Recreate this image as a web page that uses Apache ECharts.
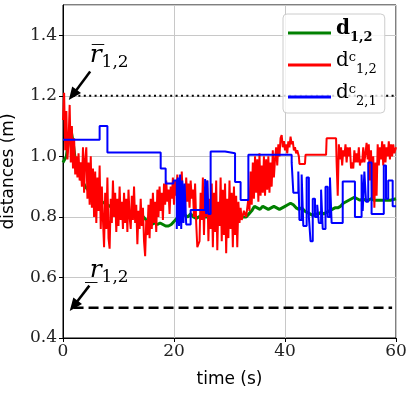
<!DOCTYPE html>
<html>
<head>
<meta charset="utf-8">
<script src="https://cdn.jsdelivr.net/npm/echarts@6/dist/echarts.min.js"></script>
<style>
  html, body { margin: 0; padding: 0; background: #fff; }
  #chart { width: 407px; height: 395px; }
</style>
</head>
<body>
<div id="chart"></div>
<script>
// time (s), distance (m)
const d12 = [[0,0.98],[0.3,0.975],[0.6,1.0],[0.9,1.04],[1.2,1.07],[1.5,1.08],[1.8,1.05],[2.2,0.99],[2.6,0.96],[3,0.94],[3.5,0.92],[4,0.9],[4.5,0.89],[5,0.88],[5.5,0.875],[6,0.865],[6.5,0.855],[7,0.85],[7.5,0.845],[8,0.84],[8.5,0.835],[9,0.825],[9.5,0.825],[10,0.82],[10.5,0.82],[11,0.815],[11.5,0.81],[12,0.81],[12.5,0.805],[13,0.81],[13.5,0.8],[14,0.805],[14.5,0.8],[15,0.79],[15.5,0.78],[16,0.775],[16.5,0.78],[17,0.775],[17.5,0.78],[18,0.775],[18.5,0.77],[19,0.77],[19.5,0.775],[20,0.785],[20.5,0.795],[21,0.8],[21.5,0.81],[22,0.805],[22.5,0.8],[23,0.81],[23.5,0.8],[24,0.795],[24.5,0.8],[25,0.805],[25.5,0.8],[26,0.8],[27,0.8],[28,0.805],[29,0.8],[30,0.8],[31,0.805],[32,0.8],[33,0.8],[33.5,0.81],[34,0.82],[34.5,0.835],[35,0.83],[35.5,0.825],[36,0.835],[36.5,0.83],[37,0.825],[37.5,0.83],[38,0.835],[38.5,0.83],[39,0.825],[39.5,0.83],[40,0.835],[40.5,0.84],[41,0.845],[41.5,0.84],[42,0.83],[42.5,0.825],[43,0.83],[43.5,0.82],[44,0.815],[44.5,0.81],[45,0.805],[45.5,0.81],[46,0.81],[46.5,0.815],[47,0.81],[47.5,0.815],[48,0.82],[48.5,0.825],[49,0.83],[49.5,0.83],[50,0.835],[50.5,0.845],[51,0.85],[51.5,0.855],[52,0.86],[52.5,0.865],[53,0.86],[53.5,0.855],[54,0.86],[54.5,0.855],[55,0.855],[55.5,0.86],[56,0.855],[57,0.855],[58,0.855],[59,0.855],[60,0.86]]

const d12c = [[0,1.12],[0.2,1.21],[0.4,1.02],[0.6,1.15],[0.8,0.99],[1.0,1.05],[1.2,1.17],[1.4,0.98],[1.6,1.1],[1.8,0.96],[2.0,1.06],[2.2,0.94],[2.4,1.0],[2.6,0.93],[2.8,1.01],[3.0,0.92],[3.2,0.98],[3.4,0.9],[3.6,1.03],[3.8,0.88],[4.0,0.99],[4.2,1.03],[4.4,0.86],[4.6,0.98],[4.8,0.84],[5.0,1.0],[5.2,0.83],[5.4,0.96],[5.6,0.8],[5.8,0.95],[6.0,0.78],[6.2,0.93],[6.4,0.82],[6.6,0.97],[6.8,0.76],[7.0,0.9],[7.2,0.79],[7.4,0.7],[7.6,0.88],[7.8,0.76],[8.0,0.93],[8.2,0.73],[8.4,0.695],[8.6,0.86],[8.8,0.78],[9.0,0.92],[9.2,0.8],[9.4,0.88],[9.6,0.75],[9.8,0.86],[10.0,0.77],[10.2,0.9],[10.4,0.79],[10.6,0.85],[10.8,0.76],[11.0,0.88],[11.2,0.78],[11.4,0.86],[11.6,0.75],[11.8,0.89],[12.0,0.8],[12.2,0.76],[12.4,0.87],[12.6,0.79],[12.8,0.9],[13.0,0.78],[13.2,0.84],[13.4,0.71],[13.6,0.82],[13.8,0.76],[14.0,0.86],[14.2,0.77],[14.4,0.83],[14.6,0.72],[14.8,0.67],[15.0,0.79],[15.2,0.74],[15.4,0.84],[15.6,0.73],[15.8,0.86],[16.0,0.76],[16.2,0.88],[16.4,0.78],[16.6,0.85],[16.8,0.75],[17.0,0.89],[17.2,0.8],[17.4,0.9],[17.6,0.82],[17.8,0.88],[18.0,0.79],[18.2,0.91],[18.4,0.84],[18.6,0.92],[18.8,0.85],[19.0,0.89],[19.2,0.81],[19.4,0.9],[19.6,0.86],[19.8,0.93],[20.0,0.84],[20.2,0.92],[20.4,0.87],[20.6,0.94],[20.8,0.83],[21.0,0.92],[21.2,0.86],[21.4,0.95],[21.6,0.84],[21.8,0.9],[22.0,0.82],[22.2,0.93],[22.4,0.85],[22.6,0.91],[22.8,0.83],[23.0,0.92],[23.2,0.86],[23.4,0.89],[23.6,0.8],[23.8,0.91],[24.0,0.78],[24.2,0.7],[24.4,0.695],[24.6,0.72],[24.8,0.88],[25.0,0.79],[25.2,0.93],[25.4,0.74],[25.6,0.9],[25.8,0.8],[26.0,0.92],[26.2,0.72],[26.4,0.86],[26.6,0.76],[26.8,0.91],[27.0,0.7],[27.2,0.88],[27.4,0.75],[27.6,0.92],[27.8,0.69],[28.0,0.85],[28.2,0.77],[28.4,0.93],[28.6,0.72],[28.8,0.89],[29.0,0.74],[29.2,0.91],[29.4,0.68],[29.6,0.86],[29.8,0.73],[30.0,0.92],[30.2,0.76],[30.4,0.88],[30.6,0.7],[30.8,0.9],[31.0,0.74],[31.2,0.87],[31.4,0.7],[31.6,0.85],[31.8,0.78],[32.0,0.83],[32.2,0.79],[32.6,0.82],[33.0,0.8],[33.4,0.86],[33.6,0.82],[33.8,0.95],[34.0,0.84],[34.2,0.98],[34.4,0.86],[34.6,1.0],[34.8,0.88],[35.0,0.99],[35.2,0.85],[35.4,1.01],[35.6,0.87],[35.8,0.97],[36.0,0.88],[36.2,1.0],[36.4,0.87],[36.6,0.99],[36.8,0.89],[37.0,1.0],[37.2,0.88],[37.4,0.98],[37.6,0.9],[37.8,1.02],[38.0,0.93],[38.2,0.99],[38.4,1.03],[38.6,0.97],[38.8,1.04],[39.0,1.0],[39.2,1.06],[39.4,1.07],[39.6,1.03],[39.8,1.05],[40.0,1.02],[40.2,1.04],[40.4,1.01],[40.6,1.05],[40.8,1.03],[41.0,1.065],[41.2,1.04],[41.4,1.05],[41.6,1.02],[41.8,1.03],[42.0,1.01],[42.2,1.02],[42.5,1.0],[42.6,0.975],[43.6,0.975],[43.7,1.005],[47.4,1.005],[47.5,1.06],[49.2,1.06],[49.3,0.98],[49.5,0.87],[49.7,1.04],[49.9,0.99],[50.1,1.03],[50.3,0.97],[50.5,1.02],[50.7,1.0],[50.9,1.04],[51.1,0.98],[51.3,1.03],[51.5,1.0],[51.7,1.03],[51.9,0.96],[52.1,0.98],[52.3,0.96],[52.5,1.02],[52.7,0.98],[52.9,1.01],[53.1,0.98],[53.3,1.03],[53.5,0.97],[53.7,0.99],[53.9,0.98],[54.1,1.03],[54.3,0.98],[54.5,1.01],[54.7,1.045],[54.9,0.99],[55.1,1.04],[55.3,0.92],[55.5,1.02],[55.7,0.86],[55.9,1.0],[56.1,0.83],[56.3,0.98],[56.5,0.87],[56.7,1.04],[56.9,0.97],[57.1,1.03],[57.3,0.99],[57.5,1.05],[57.7,0.97],[57.9,1.04],[58.1,0.98],[58.3,1.03],[58.5,1.0],[58.7,1.05],[58.9,0.99],[59.1,1.04],[59.3,1.0],[59.5,1.04],[59.7,1.01],[60,1.03]]

// step signal: each value holds until the next time stamp
const d21c = [[0,1.055],[6.6,1.1],[8.0,1.013],[17.6,0.96],[18.5,0.91],[19.9,0.92],[20.5,0.76],[20.7,0.93],[20.9,0.77],[21.1,0.94],[21.3,0.76],[21.5,0.92],[21.7,0.78],[21.9,0.91],[22.2,0.775],[23.0,0.823],[25.6,0.925],[25.8,0.81],[26.0,0.92],[26.2,0.81],[26.6,1.016],[29.2,1.01],[31.0,0.915],[32.0,0.856],[33.4,1.005],[41.2,0.98],[41.5,0.88],[42.4,0.95],[42.6,0.79],[43.0,0.94],[43.3,0.77],[43.9,0.93],[44.3,0.8],[44.6,0.72],[45.0,0.86],[45.4,0.8],[45.8,0.84],[46.1,0.78],[46.5,0.89],[46.8,0.76],[47.3,0.9],[47.7,0.8],[48.1,0.93],[48.4,0.78],[50.4,0.917],[52.6,0.8],[53.8,0.94],[54.0,0.82],[54.3,0.95],[54.6,0.85],[55.0,0.98],[55.6,0.81],[57.8,0.97],[58.2,0.86],[58.6,0.92],[59.4,0.835],[60,0.835]]

const rMax = [[1.8,1.2],[60,1.2]]
const rMin = [[1.9,0.5],[59.3,0.5]]
const arrowMax = [[4.9,1.28],[1.75,1.203]]
const arrowMin = [[4.75,0.573],[1.93,0.506]]
const labelMaxAt = [4.8,1.325]
const labelMinAt = [4.8,0.615]

const xTicks = { min: 0, max: 60, interval: 20 }
const yTicks = { min: 0.4, max: 1.5, interval: 0.2 }

const legendLabels = {
  d12: '{bd|d}{bs|1,2}',
  d12c: '{d|d}{sp|c}{s|1,2}',
  d21c: '{d|d}{sp|c}{s|2,1}'
}

const chart = echarts.init(document.getElementById('chart'))

const serif = 'DejaVu Serif'
const sans = 'DejaVu Sans'

const rLabelRich = {
  r: { fontFamily: serif, fontStyle: 'italic', fontSize: 25, color: '#000', verticalAlign: 'bottom', lineHeight: 26, padding: [0, 0, 3, 0] },
  s: { fontFamily: serif, fontSize: 17, color: '#000', verticalAlign: 'bottom', lineHeight: 18 }
}

const option = {
  animation: false,
  grid: {
    left: 63, right: 11, top: 5, bottom: 57,
    show: true, borderColor: '#000', borderWidth: 1,
    containLabel: false, outerBoundsMode: 'none'
  },
  xAxis: {
    type: 'value',
    min: xTicks.min, max: xTicks.max, interval: xTicks.interval,
    name: 'time (s)',
    nameLocation: 'middle',
    nameGap: 33,
    nameTextStyle: { fontFamily: sans, fontSize: 17, color: '#000' },
    axisLine: { lineStyle: { color: '#000', width: 1 } },
    axisTick: { show: true, length: 4, lineStyle: { color: '#000' } },
    axisLabel: { fontFamily: serif, fontSize: 17, color: '#222', margin: 5 },
    splitLine: { show: true, lineStyle: { color: '#c8c8c8', width: 1 } }
  },
  yAxis: {
    type: 'value',
    min: yTicks.min, max: yTicks.max, interval: yTicks.interval,
    name: 'distances (m)',
    nameLocation: 'middle',
    nameGap: 46,
    nameTextStyle: { fontFamily: sans, fontSize: 17, color: '#000' },
    axisLine: { show: true, lineStyle: { color: '#000', width: 1 } },
    axisTick: { show: true, length: 4, lineStyle: { color: '#000' } },
    axisLabel: {
      fontFamily: serif, fontSize: 17, color: '#222', margin: 6,
      showMaxLabel: false,
      formatter: function (v) { return v.toFixed(1) }
    },
    splitLine: { show: true, lineStyle: { color: '#c8c8c8', width: 1 } }
  },
  legend: {
    orient: 'vertical',
    left: 283,
    top: 14,
    padding: [5, 8, 5, 5],
    itemGap: 7,
    itemWidth: 43,
    itemHeight: 3,
    itemTextGap: 13,
    icon: 'rect',
    backgroundColor: 'rgba(255,255,255,0.8)',
    borderColor: '#cccccc',
    borderWidth: 1,
    borderRadius: 4,
    data: ['d12', 'd12c', 'd21c'],
    formatter: function (name) { return legendLabels[name] },
    textStyle: {
      color: '#000',
      rich: {
        bd: { fontFamily: serif, fontWeight: 'bold', fontSize: 20, verticalAlign: 'bottom', lineHeight: 22, padding: [0, 0, 5, 0] },
        bs: { fontFamily: serif, fontWeight: 'bold', fontSize: 13, verticalAlign: 'bottom', lineHeight: 15 },
        d: { fontFamily: serif, fontSize: 20, verticalAlign: 'bottom', lineHeight: 22, padding: [0, 0, 5, 0] },
        sp: { fontFamily: serif, fontSize: 13, verticalAlign: 'bottom', lineHeight: 15, padding: [0, 0, 12, 0] },
        s: { fontFamily: serif, fontSize: 13, verticalAlign: 'bottom', lineHeight: 15 }
      }
    }
  },
  series: [
    {
      name: 'rMax', type: 'line', data: rMax, showSymbol: false, silent: true,
      lineStyle: { color: '#000', width: 2, type: [2, 3.4] },
      markLine: {
        silent: true, symbol: ['none', 'triangle'], symbolSize: [11, 13],
        label: { show: false },
        lineStyle: { color: '#000', width: 2.5, type: 'solid' },
        data: [[{ coord: arrowMax[0] }, { coord: arrowMax[1] }]]
      },
      markPoint: {
        silent: true, symbol: 'circle', symbolSize: 0,
        label: { show: true, position: 'right', distance: 0, formatter: '{r|r\u0305}{s|1,2}', rich: rLabelRich },
        data: [{ coord: labelMaxAt }]
      }
    },
    {
      name: 'rMin', type: 'line', data: rMin, showSymbol: false, silent: true,
      lineStyle: { color: '#000', width: 2.5, type: [10, 5] },
      markLine: {
        silent: true, symbol: ['none', 'triangle'], symbolSize: [11, 13],
        label: { show: false },
        lineStyle: { color: '#000', width: 2.5, type: 'solid' },
        data: [[{ coord: arrowMin[0] }, { coord: arrowMin[1] }]]
      },
      markPoint: {
        silent: true, symbol: 'circle', symbolSize: 0,
        label: { show: true, position: 'right', distance: 0, formatter: '{r|r\u0332}{s|1,2}', rich: rLabelRich },
        data: [{ coord: labelMinAt }]
      }
    },
    {
      name: 'd12', type: 'line', data: d12, showSymbol: false,
      color: '#008000', lineStyle: { color: '#008000', width: 3 }
    },
    {
      name: 'd12c', type: 'line', data: d12c, showSymbol: false,
      color: '#ff0000', lineStyle: { color: '#ff0000', width: 2 }
    },
    {
      name: 'd21c', type: 'line', data: d21c, showSymbol: false, step: 'end',
      color: '#0000ff', lineStyle: { color: '#0000ff', width: 2 }
    }
  ]
}

chart.setOption(option)
window.addEventListener('resize', function () {
  chart.resize()
})
</script>
</body>
</html>
